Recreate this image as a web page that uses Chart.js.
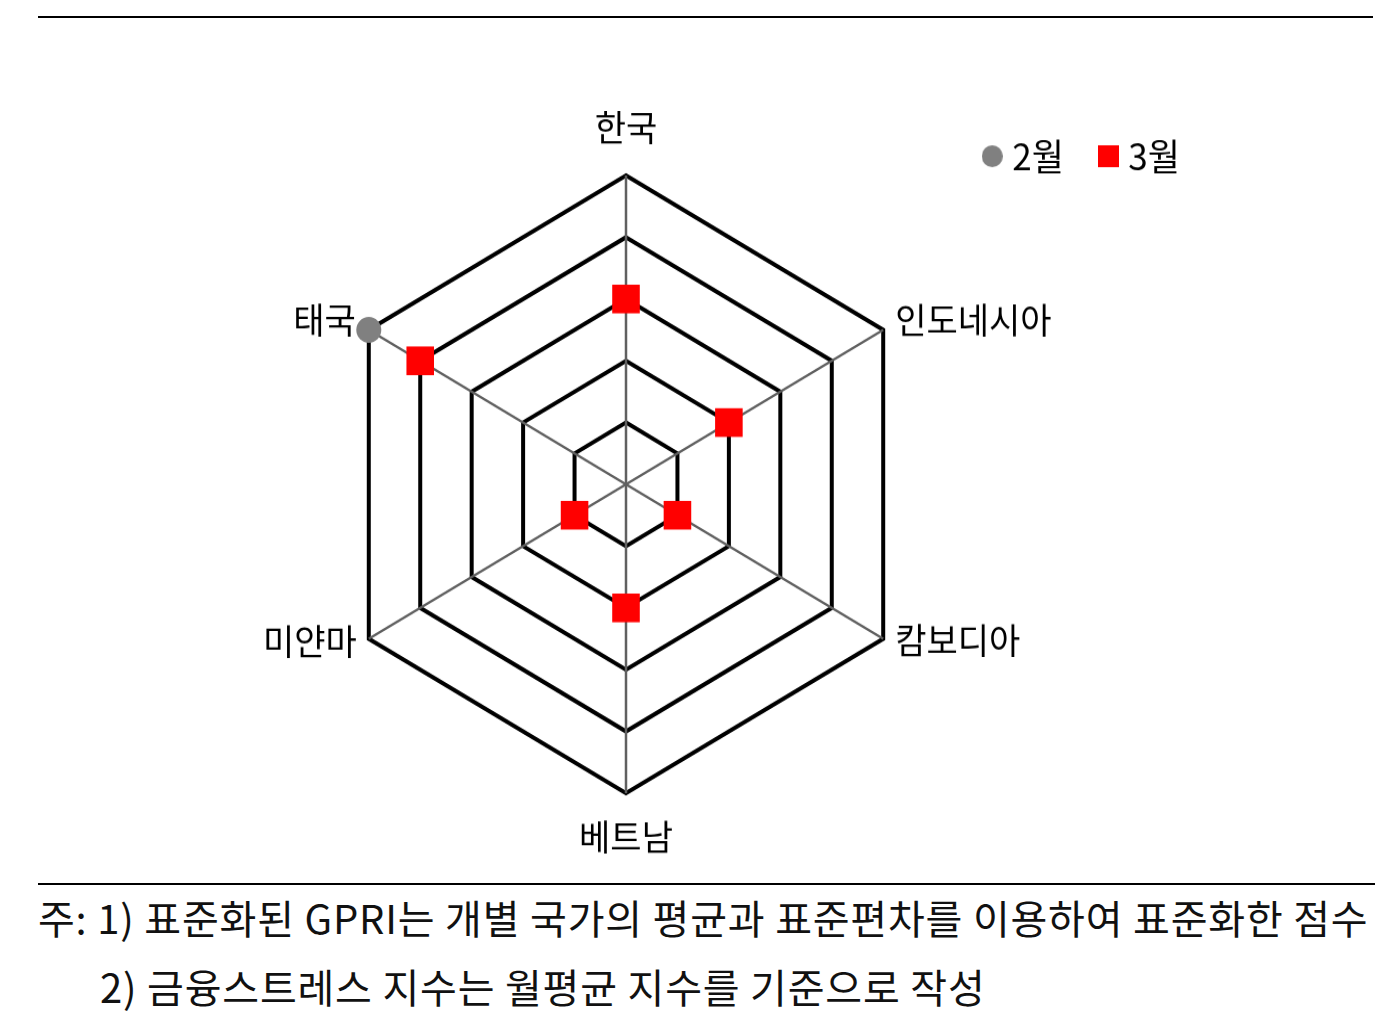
<!DOCTYPE html>
<html>
<head>
<meta charset="utf-8">
<script src="https://cdn.jsdelivr.net/npm/chart.js@4.4.1/dist/chart.umd.min.js"></script>
<style>
html,body{margin:0;padding:0;background:#fff;width:1379px;height:1012px;overflow:hidden;font-family:'Noto Sans CJK KR',sans-serif;color:#111;}
#topline{position:absolute;left:38px;top:16px;width:1335px;height:2px;background:#000;}
#botline{position:absolute;left:38px;top:883px;width:1337px;height:2px;background:#000;}
#wrap{position:absolute;left:0;top:60px;width:1379px;height:780px;transform:scaleY(1.04);transform-origin:0 0;}
.note{position:absolute;white-space:nowrap;font-size:40px;line-height:44px;letter-spacing:0.8px;}
#n1{left:38px;top:895px;}
#n2{left:100px;top:964px;}
</style>
</head>
<body>
<div id="topline"></div>
<div id="wrap"><canvas id="c" width="1379" height="780"></canvas></div>
<div id="botline"></div>
<div class="note" id="n1">주: 1) 표준화된 GPRI는 개별 국가의 평균과 표준편차를 이용하여 표준화한 점수</div>
<div class="note" id="n2">2) 금융스트레스 지수는 월평균 지수를 기준으로 작성</div>
<script>
const categories = ['한국', '인도네시아', '캄보디아', '베트남', '미얀마', '태국'];
const seriesNames = ['2월', '3월'];
const febValues = [1, 0, -1, 0, -1, 3];
const marValues = [1, 0, -1, 0, -1, 2];
const scaleMin = -2;
const scaleMax = 3;
const scaleStep = 1;

const FONT = '"Noto Sans CJK KR", "Noto Sans", sans-serif';
const GRAY = '#808080';
const RED = '#FF0000';

function makeIcon(kind, color, size) {
  const cv = document.createElement('canvas');
  cv.width = size; cv.height = size;
  const g = cv.getContext('2d');
  g.fillStyle = color;
  if (kind === 'circle') {
    g.beginPath(); g.arc(size / 2, size / 2, size / 2, 0, Math.PI * 2); g.fill();
  } else {
    g.fillRect(0, 0, size, size);
  }
  return cv;
}
const legendIcons = [makeIcon('circle', GRAY, 21), makeIcon('rect', RED, 21)];

// label placement relative to each axis end (style only)
const labelPlace = [
  {align: 'center', dx: 0, dy: -46},
  {align: 'left', dx: 12, dy: -9},
  {align: 'left', dx: 12, dy: 2},
  {align: 'center', dx: 0, dy: 42},
  {align: 'right', dx: -12, dy: 3},
  {align: 'right', dx: -13, dy: -9}
];

const axisLabelPlugin = {
  id: 'axisLabelPlugin',
  afterDatasetsDraw(chart) {
    const s = chart.scales.r;
    const ctx = chart.ctx;
    ctx.save();
    ctx.font = '34px ' + FONT;
    ctx.fillStyle = '#000';
    ctx.textBaseline = 'middle';
    chart.data.labels.forEach((lab, i) => {
      const p = s.getPointPosition(i, s.drawingArea);
      const o = labelPlace[i];
      ctx.textAlign = o.align;
      ctx.fillText(lab, p.x + o.dx, p.y + o.dy);
    });
    ctx.restore();
  }
};

new Chart(document.getElementById('c'), {
  type: 'radar',
  data: {
    labels: categories,
    datasets: [
      {
        label: seriesNames[0],
        data: febValues,
        showLine: false,
        fill: false,
        borderWidth: 0,
        borderColor: GRAY,
        backgroundColor: GRAY,
        pointStyle: 'circle',
        pointRadius: 12.5,
        pointHoverRadius: 12.5,
        pointBorderWidth: 0,
        pointBackgroundColor: GRAY,
        order: 2
      },
      {
        label: seriesNames[1],
        data: marValues,
        showLine: false,
        fill: false,
        borderWidth: 0,
        borderColor: RED,
        backgroundColor: RED,
        pointStyle: 'rect',
        pointRadius: 19.5,
        pointHoverRadius: 19.5,
        pointBorderWidth: 0,
        pointBackgroundColor: RED,
        order: 1
      }
    ]
  },
  options: {
    responsive: false,
    animation: false,
    layout: {padding: {top: 33, left: 30, right: 157, bottom: 75}},
    scales: {
      r: {
        min: scaleMin,
        max: scaleMax,
        startAngle: 0,
        ticks: {display: false, stepSize: scaleStep},
        pointLabels: {display: false},
        grid: {
          color: (c) => (c.tick && c.tick.value === scaleMin) ? 'rgba(0,0,0,0)' : '#000',
          lineWidth: 4
        },
        angleLines: {color: '#606060', lineWidth: 2.5}
      }
    },
    plugins: {
      tooltip: {enabled: false},
      legend: {
        position: 'top',
        align: 'end',
        maxHeight: 78,
        labels: {
          usePointStyle: true,
          boxWidth: 5,
          boxHeight: 21,
          padding: 42,
          color: '#000',
          font: {family: FONT, size: 35},
          generateLabels: (chart) => chart.data.datasets.map((ds, i) => ({
            text: ds.label,
            pointStyle: legendIcons[i],
            fillStyle: ds.backgroundColor,
            strokeStyle: ds.backgroundColor,
            lineWidth: 0,
            hidden: false,
            datasetIndex: i,
            fontColor: '#000'
          }))
        }
      }
    }
  },
  plugins: [axisLabelPlugin]
});
</script>
</body>
</html>
